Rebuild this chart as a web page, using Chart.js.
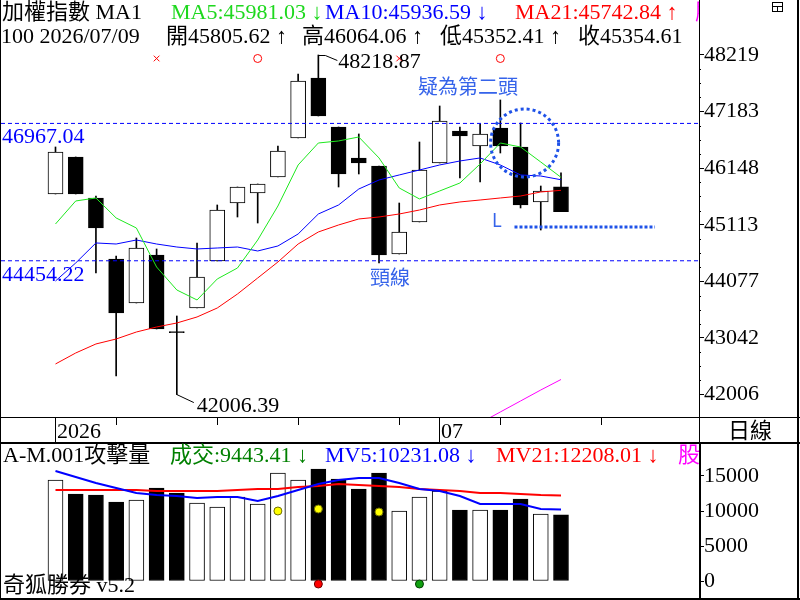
<!DOCTYPE html>
<html>
<head>
<meta charset="utf-8">
<script src="https://cdn.jsdelivr.net/npm/chart.js@4"></script>
<style>
  html, body { margin: 0; padding: 0; background: #fff; }
  #wrap { position: relative; width: 800px; height: 600px; overflow: hidden; }
  canvas { position: absolute; left: 0; }
  #priceChart { top: 0; }
  #volChart { top: 442px; }
</style>
</head>
<body>
<div id="wrap">
  <canvas id="priceChart" width="800" height="442"></canvas>
  <canvas id="volChart" width="800" height="158"></canvas>
</div>
<script>
// daily candles, index 0..25 (last one is 2026/07/09)
const opens  = [45676, 46353, 45603, 44487, 43682, 44560, 43160, 43590, 44450, 45511, 45694, 45987, 46701, 47798, 46902, 46335, 46188, 44578, 45164, 46243, 46829, 46554, 46883, 46536, 45530, 45805.62];
const highs  = [46536, 46353, 45640, 44542, 44871, 44670, 43444, 44780, 45475, 45804, 45859, 46554, 47871, 48218.87, 46902, 46774, 46188, 45511, 46627, 47286, 46902, 46957, 47396, 46975, 45822, 46064.06];
const lows   = [45676, 45676, 44231, 42346, 43682, 43206, 42006.39, 43590, 44450, 45255, 45145, 45987, 46701, 47103, 45804, 46042, 44414, 44578, 45164, 46243, 45969, 45896, 46426, 45420, 45017, 45352.41];
const closes = [46444, 45676, 45054, 43499, 44688, 43206, 43140, 44158, 45383, 45804, 45859, 46463, 47743, 47103, 46042, 46243, 44560, 44981, 46115, 47012, 46737, 46774, 46554, 45475, 45731, 45354.61];

const ma5  = [45127, 45548, 45603, 45237, 45054, 44340, 43920, 43737, 44121, 44322, 44834, 45456, 46207, 46609, 46646, 46719, 46335, 45786, 45585, 45731, 45877, 46225, 46609, 46536, 46261, 45981.03];
const ma10 = [44084, 44414, 44780, 44761, 44834, 44761, 44706, 44670, 44688, 44706, 44633, 44725, 44944, 45310, 45475, 45767, 45932, 46024, 46115, 46207, 46280, 46335, 46207, 46024, 46005, 45936.59];
const ma21 = [42566, 42767, 42932, 43023, 43151, 43243, 43316, 43426, 43590, 43846, 44139, 44432, 44761, 44981, 45109, 45219, 45255, 45310, 45383, 45475, 45530, 45566, 45603, 45639, 45713, 45742.84];
const pinkStart = 21;
const pinkLine = [41486, 41688, 41889, 42090, 42282];

const volumes = [14429, 12429, 12286, 11286, 11571, 13286, 12571, 11143, 10571, 12000, 11000, 15429, 14429, 16000, 14571, 13143, 15429, 10000, 12000, 12857, 10143, 10143, 10143, 11714, 9571, 9443.41];
const mv5  = [15714, 14857, 14000, 13286, 12571, 12286, 12143, 11857, 12000, 12000, 11429, 12143, 13000, 13857, 14429, 14714, 14714, 14000, 13143, 12857, 12143, 11000, 11000, 11000, 10286, 10231.08];
const mv21 = [13000, 13000, 13000, 13000, 13000, 12857, 12857, 12857, 12857, 13000, 13143, 13143, 13429, 13571, 13857, 13714, 13571, 13429, 13143, 13000, 12857, 12571, 12571, 12429, 12286, 12208.01];

const priceTicks = [42006, 43042, 44077, 45113, 46148, 47183, 48219];
const volTicks = [0, 5000, 10000, 15000];
const neckHigh = 46967.04;
const neckLow = 44454.22;
const supportL = 45072;
const markLevel = 48155;
const crossMarks = [5, 17];
const circleMarks = [10, 22];
const yellowDots = [[11, 10000], [13, 10286], [16, 9857]];
const redDots = [[13, -430]];
const greenDots = [[18, -430]];
const dateTicks = [0, 3, 8, 12, 17, 19, 22, 27];
const dateLabels = [{ at: 0, text: '2026' }, { at: 19, text: '07' }];

const xMin = -2.695, xMax = 31.825;
const ups = opens.map((o, i) => closes[i] >= opens[i]);
const pts = arr => arr.map((v, i) => ({ x: i, y: v }));

const serif = '"Liberation Serif", "Noto Sans CJK TC", serif';
const sans = '"Noto Sans CJK TC", "Noto Sans", sans-serif';
const annoBlue = '#3563ea';

const xAxis = { type: 'linear', display: false, offset: false, min: xMin, max: xMax };

function noPad(s) {
  s.width = 101;
  s.paddingTop = 0;
  s.paddingBottom = 0;
}

const priceDecor = {
  id: 'priceDecor',
  afterDraw(chart) {
    const ctx = chart.ctx, x = chart.scales.x, y = chart.scales.y;
    ctx.save();
    ctx.fillStyle = '#000';
    ctx.fillRect(0, 0, 1, 442);
    ctx.fillRect(699, 0, 1, 442);
    ctx.fillRect(0, 417, 800, 1);
    ctx.fillRect(797, 0, 2, 442);

    // minor dots on price axis
    const step = (priceTicks[6] - priceTicks[0]) / 6;
    for (let k = 0; k < 24; k++) {
      if (k % 4 === 0) continue;
      const py = Math.round(y.getPixelForValue(priceTicks[0] + step * k / 4));
      ctx.fillRect(700, py, 1, 1);
    }

    // date strip
    ctx.strokeStyle = '#000';
    ctx.lineWidth = 1;
    ctx.beginPath();
    dateTicks.forEach(t => {
      const px = Math.floor(x.getPixelForValue(t)) + 0.5;
      ctx.moveTo(px, 418);
      ctx.lineTo(px, 425);
    });
    ctx.stroke();
    ctx.font = '22px ' + serif;
    dateLabels.forEach(d => {
      const px = Math.floor(x.getPixelForValue(d.at));
      ctx.fillRect(px, 418, 1, 24);
      ctx.fillText(d.text, px + 2, 438);
    });
    ctx.textAlign = 'center';
    ctx.fillText('日線', 750, 438);
    ctx.textAlign = 'left';

    // small icon top right
    ctx.strokeRect(772.5, 2.5, 10, 9);
    ctx.beginPath();
    ctx.moveTo(772.5, 6.5); ctx.lineTo(782.5, 6.5);
    ctx.moveTo(777.5, 6.5); ctx.lineTo(777.5, 11.5);
    ctx.stroke();

    // header
    ctx.save();
    ctx.beginPath();
    ctx.rect(0, 0, 699, 442);
    ctx.clip();
    ctx.fillStyle = '#000';
    ctx.fillText('加權指數 MA1', 2, 19);
    ctx.fillStyle = '#1ed81e';
    ctx.fillText('MA5:45981.03 ↓', 171, 19);
    ctx.fillStyle = '#0000ff';
    ctx.fillText('MA10:45936.59 ↓', 325, 19);
    ctx.fillStyle = '#ff0000';
    ctx.fillText('MA21:45742.84 ↑', 515, 19);
    ctx.fillStyle = '#ff00ff';
    ctx.fillText('股', 695, 19);
    ctx.fillStyle = '#000';
    ctx.fillText('100 2026/07/09', 1, 43);
    ctx.fillText('開45805.62 ↑', 166, 43);
    ctx.fillText('高46064.06 ↑', 302, 43);
    ctx.fillText('低45352.41 ↑', 440, 43);
    ctx.fillText('收45354.61', 578, 43);

    // neckline values
    ctx.fillStyle = '#0000ff';
    ctx.fillText(neckHigh.toFixed(2), 2, y.getPixelForValue(neckHigh) + 20);
    ctx.fillText(neckLow.toFixed(2), 2, y.getPixelForValue(neckLow) + 20);

    // high / low labels with leaders
    ctx.fillStyle = '#000';
    const hx = x.getPixelForValue(13), hy = Math.round(y.getPixelForValue(highs[13])) + 0.5;
    ctx.beginPath();
    ctx.moveTo(hx, hy); ctx.lineTo(hx + 7, hy); ctx.lineTo(hx + 19, hy + 5);
    ctx.stroke();
    ctx.fillText(highs[13].toFixed(2), hx + 20, hy + 12);
    const lx = x.getPixelForValue(6), ly = y.getPixelForValue(lows[6]);
    ctx.beginPath();
    ctx.moveTo(lx, ly); ctx.lineTo(lx + 17, ly + 8);
    ctx.stroke();
    ctx.fillText(lows[6].toFixed(2), lx + 20, ly + 17);

    // annotations
    ctx.fillStyle = annoBlue;
    ctx.font = '20px ' + sans;
    ctx.fillText('疑為第二頭', 418, 94);
    ctx.fillText('頸線', 370, 285);
    ctx.font = '18px ' + sans;
    ctx.fillText('L', 492, 227);

    // dotted circle around the second head
    ctx.strokeStyle = '#1f52e8';
    ctx.lineWidth = 3;
    ctx.setLineDash([3, 3]);
    ctx.beginPath();
    ctx.arc(x.getPixelForValue(23.2), y.getPixelForValue(46609), 34, 0, Math.PI * 2);
    ctx.stroke();
    ctx.restore();
    ctx.restore();
  }
};

new Chart(document.getElementById('priceChart'), {
  type: 'bar',
  data: {
    datasets: [
      { type: 'line', data: pts(ma5), borderColor: '#1ee81e', borderWidth: 1, pointRadius: 0, order: 1 },
      { type: 'line', data: pts(ma10), borderColor: '#0000ff', borderWidth: 1, pointRadius: 0, order: 1 },
      { type: 'line', data: pts(ma21), borderColor: '#ff0000', borderWidth: 1, pointRadius: 0, order: 1 },
      { type: 'line', data: pinkLine.map((v, i) => ({ x: pinkStart + i, y: v })), borderColor: '#ff00ff', borderWidth: 1, pointRadius: 0, order: 1 },
      { type: 'line', data: [{ x: xMin, y: neckHigh }, { x: xMax, y: neckHigh }], borderColor: '#0000ff', borderWidth: 1, borderDash: [4, 3], pointRadius: 0, order: 0 },
      { type: 'line', data: [{ x: xMin, y: neckLow }, { x: xMax, y: neckLow }], borderColor: '#0000ff', borderWidth: 1, borderDash: [4, 3], pointRadius: 0, order: 0 },
      { type: 'line', data: [{ x: 22.7, y: supportL }, { x: 29.65, y: supportL }], borderColor: '#1f52e8', borderWidth: 3, borderDash: [3, 2], pointRadius: 0, order: 0 },
      { type: 'line', showLine: false, data: crossMarks.map(i => ({ x: i, y: markLevel })), pointStyle: 'crossRot', pointRadius: 4, borderColor: '#ff0000', borderWidth: 1, order: 0 },
      { type: 'line', showLine: false, data: circleMarks.map(i => ({ x: i, y: markLevel })), pointStyle: 'circle', pointRadius: 4, borderColor: '#ff0000', backgroundColor: 'rgba(0,0,0,0)', borderWidth: 1, order: 0 },
      { type: 'bar', data: opens.map((o, i) => ({ x: i, y: [o, closes[i]] })), backgroundColor: ups.map(u => u ? '#ffffff' : '#000000'), borderColor: '#000', borderWidth: 1, borderSkipped: false, barThickness: 15, grouped: false, order: 5 },
      { type: 'bar', data: lows.map((l, i) => ({ x: i, y: [l, highs[i]] })), backgroundColor: '#000', barThickness: 1, grouped: false, order: 6 }
    ]
  },
  options: {
    responsive: false,
    animation: false,
    layout: { autoPadding: false, padding: { left: 1, top: 0, right: 0, bottom: 25 } },
    plugins: { legend: { display: false }, tooltip: { enabled: false } },
    scales: {
      x: xAxis,
      y: {
        position: 'right',
        min: 41596, max: 49225,
        afterFit: noPad,
        afterBuildTicks(s) { s.ticks = priceTicks.map(v => ({ value: v })); },
        ticks: { color: '#000', font: { family: serif, size: 22 }, padding: 0, autoSkip: false, callback: v => String(v) },
        grid: { drawOnChartArea: false, tickLength: 5, tickColor: '#000' },
        border: { display: false }
      }
    }
  },
  plugins: [priceDecor]
});

const volDecor = {
  id: 'volDecor',
  afterDraw(chart) {
    const ctx = chart.ctx;
    ctx.save();
    ctx.fillStyle = '#000';
    ctx.fillRect(0, 0, 800, 2);
    ctx.fillRect(0, 0, 1, 158);
    ctx.fillRect(699, 0, 2, 158);
    ctx.fillRect(797, 0, 2, 158);
    ctx.fillRect(0, 156, 800, 2);
    ctx.beginPath();
    ctx.rect(0, 0, 699, 158);
    ctx.clip();
    ctx.font = '22px ' + serif;
    ctx.fillStyle = '#000';
    ctx.fillText('A-M.001攻擊量', 3, 20);
    ctx.fillStyle = '#008000';
    ctx.fillText('成交:9443.41 ↓', 170, 20);
    ctx.fillStyle = '#0000ff';
    ctx.fillText('MV5:10231.08 ↓', 325, 20);
    ctx.fillStyle = '#ff0000';
    ctx.fillText('MV21:12208.01 ↓', 496, 20);
    ctx.fillStyle = '#ff00ff';
    ctx.fillText('股', 678, 20);
    ctx.fillStyle = '#000';
    ctx.fillText('奇狐勝券 v5.2', 3, 150);
    ctx.restore();
  }
};

const dot = (list, fill, edge) => ({
  type: 'line', showLine: false, data: list.map(d => ({ x: d[0], y: d[1] })),
  pointStyle: 'circle', pointRadius: 4, backgroundColor: fill, borderColor: edge, borderWidth: 1, order: 0
});

new Chart(document.getElementById('volChart'), {
  type: 'bar',
  data: {
    datasets: [
      { type: 'line', data: pts(mv5), borderColor: '#0000ff', borderWidth: 2, pointRadius: 0, order: 1 },
      { type: 'line', data: pts(mv21), borderColor: '#ff0000', borderWidth: 2, pointRadius: 0, order: 1 },
      dot(yellowDots, '#ffff00', '#707000'),
      dot(redDots, '#ff0000', '#700000'),
      dot(greenDots, '#10a010', '#004000'),
      { type: 'bar', data: pts(volumes), backgroundColor: ups.map(u => u ? '#ffffff' : '#000000'), borderColor: '#000', borderWidth: 1, borderSkipped: false, barThickness: 15, grouped: false, order: 5 }
    ]
  },
  options: {
    responsive: false,
    animation: false,
    layout: { autoPadding: false, padding: { left: 1, top: 0, right: 0, bottom: 0 } },
    plugins: { legend: { display: false }, tooltip: { enabled: false } },
    scales: {
      x: xAxis,
      y: {
        position: 'right',
        min: -2714, max: 19857,
        afterFit: noPad,
        afterBuildTicks(s) { s.ticks = volTicks.map(v => ({ value: v })); },
        ticks: { color: '#000', font: { family: serif, size: 22 }, padding: 0, autoSkip: false, callback: v => String(v) },
        grid: { drawOnChartArea: false, tickLength: 5, tickColor: '#000' },
        border: { display: false }
      }
    }
  },
  plugins: [volDecor]
});
</script>
</body>
</html>
